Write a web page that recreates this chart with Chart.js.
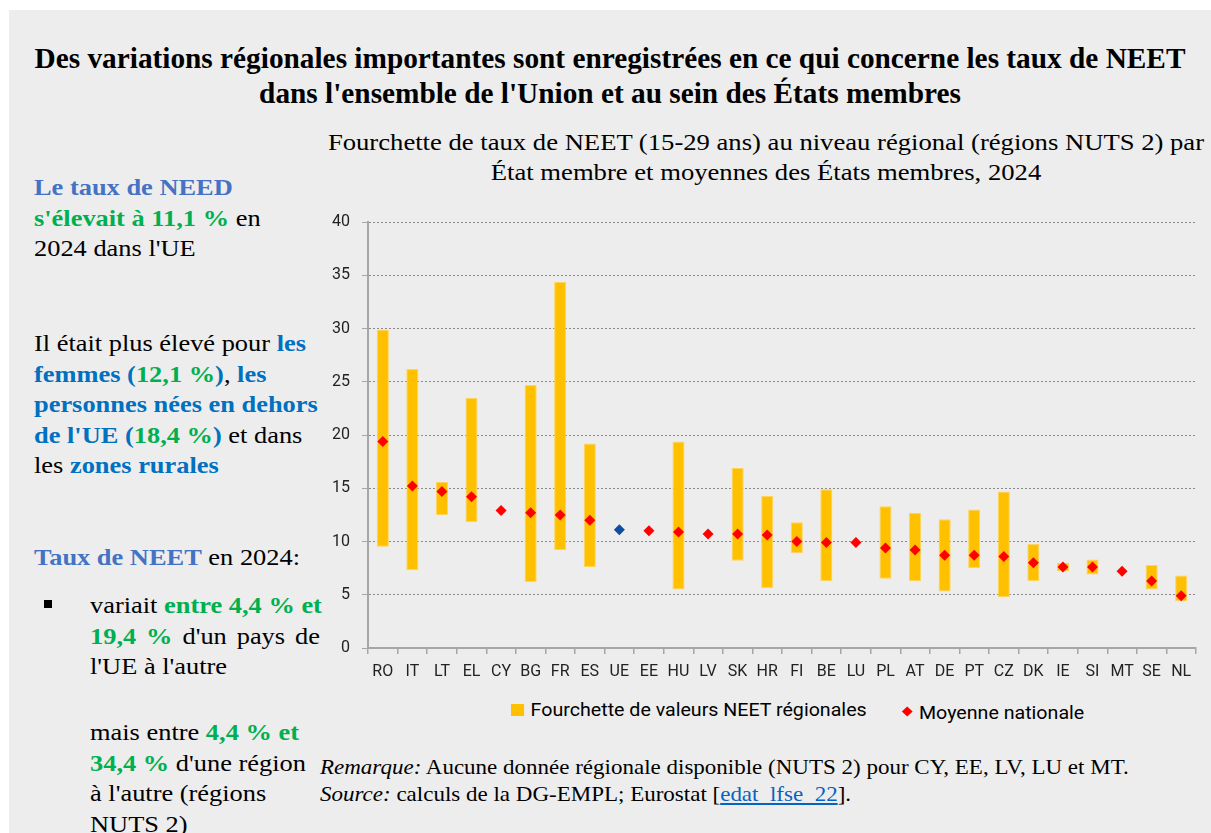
<!DOCTYPE html>
<html lang="fr">
<head>
<meta charset="utf-8">
<script src="https://cdn.jsdelivr.net/npm/chart.js@4.4.1/dist/chart.umd.min.js"></script>
<style>
  html, body { margin: 0; padding: 0; background: #fff; }
  body { width: 1211px; height: 833px; overflow: hidden; position: relative; font-family: "Liberation Serif", "Times New Roman", serif; }
  #panel { position: absolute; left: 9px; top: 10px; width: 1202px; height: 823px; background: #ededed; }
  .abs { position: absolute; white-space: nowrap; }
  #title { left: 9px; width: 1202px; top: 41px; text-align: center; font-weight: bold; font-size: 29.3px; line-height: 35px; color: #000; }
  #subtitle { left: 321px; width: 890px; top: 127px; text-align: center; font-size: 24px; line-height: 30px; color: #000; transform: scaleX(1.11); transform-origin: 50% 0; }
  .side { left: 34px; font-size: 24px; line-height: 30.5px; color: #000; transform: scaleX(1.1); transform-origin: 0 0; }
  .b1 { color: #4472c4; font-weight: bold; }
  .b2 { color: #0070c0; font-weight: bold; }
  .g { color: #00b050; font-weight: bold; }
  .just { text-align: justify; text-align-last: justify; }
  #bullet { left: 44px; top: 600px; width: 8px; height: 8px; background: #000; }
  #chartBox { left: 320px; top: 200px; width: 891px; height: 490px; }
  #legend { left: 511px; top: 697px; font-family: Roboto, "Liberation Sans", sans-serif; font-size: 18px; line-height: 26px; color: #000; transform: scaleX(1.09); transform-origin: 0 0; }
  #legend span.item { display: inline-flex; align-items: center; }
  #legend .sq { display: inline-block; width: 12px; height: 12px; margin-right: 6px; }
  #legend .dm { display: inline-block; position: relative; top: -1px; width: 7px; height: 7px; transform: rotate(45deg); margin-right: 7px; margin-left: 2px; }
  #note { left: 320px; top: 754px; font-size: 21px; line-height: 27px; color: #000; transform: scaleX(1.095); transform-origin: 0 0; }
  #note a { color: #0563c1; text-decoration: underline; }
</style>
</head>
<body>
<div id="panel"></div>

<div id="title" class="abs">Des variations régionales importantes sont enregistrées en ce qui concerne les taux de NEET<br>dans l'ensemble de l'Union et au sein des États membres</div>

<div id="subtitle" class="abs">Fourchette de taux de NEET (15-29 ans) au niveau régional (régions NUTS 2) par<br>État membre et moyennes des États membres, 2024</div>

<div class="abs side" style="top:172px"><span class="b1">Le taux de NEED</span><br><span class="g">s'élevait à 11,1 %</span> en<br>2024 dans l'UE</div>

<div class="abs side" style="top:328px">Il était plus élevé pour <span class="b2">les</span><br><span class="b2">femmes (<span class="g">12,1 %</span>)</span>, <span class="b2">les</span><br><span class="b2">personnes nées en dehors</span><br><span class="b2">de l'UE (<span class="g">18,4 %</span>)</span> et dans<br>les <span class="b2">zones rurales</span></div>

<div class="abs side" style="top:542px"><span class="b1">Taux de NEET</span> en 2024:</div>

<div id="bullet" class="abs"></div>
<div class="abs side" style="top:590px; left:90px; width:209px">
  <div>variait <span class="g">entre 4,4 % et</span></div>
  <div class="just"><span class="g">19,4 %</span> d'un pays de</div>
  <div>l'UE à l'autre</div>
</div>

<div class="abs side" style="top:717px; left:90px">mais entre <span class="g">4,4 % et</span><br><span class="g">34,4 %</span> d'une région<br>à l'autre (régions<br>NUTS 2)</div>

<div id="chartBox" class="abs"><canvas id="neetChart" width="891" height="490"></canvas></div>

<div id="legend" class="abs"></div>

<div id="note" class="abs"><i>Remarque:</i> Aucune donnée régionale disponible (NUTS 2) pour CY, EE, LV, LU et MT.<br><i>Source:</i> calculs de la DG-EMPL; Eurostat [<a>edat_lfse_22</a>].</div>

<script>
// === Data ===
const countries = ["RO", "IT", "LT", "EL", "CY", "BG", "FR", "ES", "UE", "EE", "HU", "LV", "SK", "HR",
                   "FI", "BE", "LU", "PL", "AT", "DE", "PT", "CZ", "DK", "IE", "SI", "MT", "SE", "NL"];

// lowest and highest NUTS 2 region (null = no regional data)
const regionMin = [9.5, 7.3, 12.5, 11.8, null, 6.2, 9.2, 7.6, null, null, 5.5, null, 8.2, 5.6,
                   8.9, 6.3, null, 6.5, 6.3, 5.3, 7.5, 4.8, 6.3, 7.2, 6.9, null, 5.5, 4.4];
const regionMax = [29.9, 26.2, 15.6, 23.5, null, 24.7, 34.4, 19.2, null, null, 19.4, null, 16.9, 14.3,
                   11.8, 14.9, null, 13.3, 12.7, 12.1, 13.0, 14.7, 9.8, 8.0, 8.3, null, 7.8, 6.8];

// national averages
const nationalAvg = [19.4, 15.2, 14.7, 14.2, 12.9, 12.7, 12.5, 12.0, 11.1, 11.0, 10.9, 10.7, 10.7, 10.6,
                     10.0, 9.9, 9.9, 9.4, 9.2, 8.7, 8.7, 8.6, 8.0, 7.6, 7.6, 7.2, 6.3, 4.9];

const yTicks = [0, 5, 10, 15, 20, 25, 30, 35, 40];

const rangeLabel = "Fourchette de valeurs NEET régionales";
const avgLabel = "Moyenne nationale";

const barColor = "#FFC000";
const avgColor = "#FF0000";
const euColor = "#0B4EA2";

// floating bars [min, max]
const ranges = countries.map(function (c, i) {
  return regionMin[i] === null ? null : [regionMin[i], regionMax[i]];
});
const pointColors = countries.map(function (c) { return c === "UE" ? euColor : avgColor; });

const tickFont = { family: "Roboto, 'Liberation Sans', sans-serif", size: 16 };

const ctx = document.getElementById("neetChart").getContext("2d");
const neetChart = new Chart(ctx, {
  type: "bar",
  data: {
    labels: countries,
    datasets: [
      {
        type: "line",
        label: avgLabel,
        data: nationalAvg,
        showLine: false,
        pointStyle: "rectRot",
        pointRadius: 5.5,
        pointHoverRadius: 5.5,
        pointBorderWidth: 0,
        pointBackgroundColor: pointColors,
        pointBorderColor: pointColors,
        order: 0
      },
      {
        type: "bar",
        label: rangeLabel,
        data: ranges,
        backgroundColor: barColor,
        borderColor: "#FFD45C",
        borderWidth: 1,
        borderSkipped: false,
        barPercentage: 0.41,
        categoryPercentage: 1.0,
        order: 1
      }
    ]
  },
  options: {
    responsive: false,
    animation: false,
    layout: { padding: { top: 22, right: 15, left: 0, bottom: 0 } },
    plugins: {
      legend: { display: false },
      tooltip: { enabled: false }
    },
    scales: {
      x: {
        grid: { display: true, drawOnChartArea: false, offset: true, color: "#a6a6a6", tickLength: 6, lineWidth: 1.5 },
        border: { color: "#a6a6a6", width: 2 },
        ticks: { color: "#222", font: tickFont, padding: 8, maxRotation: 0, autoSkip: false },
        afterFit: function (scale) { scale.height = 42; }
      },
      y: {
        min: 0,
        max: 40,
        afterBuildTicks: function (scale) { scale.ticks = yTicks.map(function (v) { return { value: v }; }); },
        grid: { color: "#8a8a8a", lineWidth: 1, tickLength: 6, tickColor: "#a6a6a6" },
        border: { color: "#a6a6a6", width: 2, dash: [2, 2] },
        ticks: { color: "#222", font: tickFont, padding: 12 },
        afterFit: function (scale) { scale.width = 48; }
      }
    }
  }
});

// legend built from the chart's datasets
const legendBox = document.getElementById("legend");
const barDs = neetChart.data.datasets[1];
const avgDs = neetChart.data.datasets[0];
legendBox.innerHTML =
  '<span class="item"><span class="sq" style="background:' + barDs.backgroundColor + '"></span>' + barDs.label + '</span>' +
  '<span class="item" style="margin-left:32px"><span class="dm" style="background:' + avgColor + '"></span>' + avgDs.label + '</span>';
</script>
</body>
</html>
